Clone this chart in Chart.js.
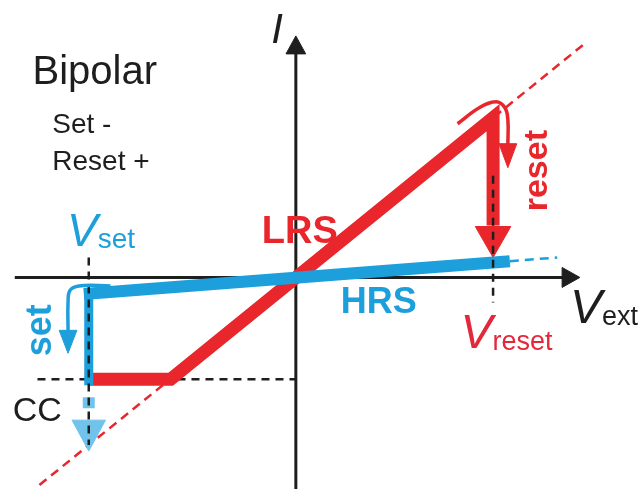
<!DOCTYPE html>
<html>
<head>
<meta charset="utf-8">
<script src="https://cdn.jsdelivr.net/npm/chart.js@4/dist/chart.umd.min.js"></script>
<style>
  html, body { margin: 0; padding: 0; background: #ffffff; }
  canvas { display: block; }
</style>
</head>
<body>
<canvas id="iv" width="641" height="489"></canvas>
<script>
// Bipolar resistive switching: schematic I–V loop (arbitrary units)
const V_SET = -2.1;
const V_RESET = 2.0;
const I_CC = -1.02;

// low resistance state branch: compliance plateau, ohmic rise, reset drop
const lrsV = [-2.1, -1.27, 2.0, 2.0];
const lrsI = [-1.02, -1.02, 1.6, 0.52];
// extrapolated LRS line
const lrsGuideV = [-2.6, 2.95];
const lrsGuideI = [-2.08, 2.36];

// high resistance state branch
const hrsV = [-2.15, 2.17];
const hrsI = [-0.165, 0.163];
const hrsGuideV = [2.17, 2.65];
const hrsGuideI = [0.163, 0.2];

// set jump at V_set
const setDropV = [-2.1, -2.1];
const setDropI = [-0.105, -1.08];

// reset arrowhead
const resetHeadV = [1.82, 2.18, 2.0, 1.82];
const resetHeadI = [0.51, 0.51, 0.2, 0.51];

// current beyond compliance (dashed, light)
const ccDashV = [-2.1, -2.1];
const ccDashI = [-1.2, -1.31];
const ccHeadV = [-2.27, -1.93, -2.1, -2.27];
const ccHeadI = [-1.43, -1.43, -1.74, -1.43];

// curved "reset" arrow
const resetCurveV = [1.64, 1.86, 2.03, 2.12, 2.15, 2.15];
const resetCurveI = [1.54, 1.70, 1.76, 1.70, 1.58, 1.33];
const resetCurveHeadV = [2.06, 2.24, 2.15, 2.06];
const resetCurveHeadI = [1.34, 1.34, 1.10, 1.34];

// curved "set" arrow
const setCurveV = [-1.88, -2.2, -2.29, -2.31, -2.31];
const setCurveI = [-0.085, -0.085, -0.13, -0.25, -0.53];
const setCurveHeadV = [-2.4, -2.22, -2.31, -2.4];
const setCurveHeadI = [-0.53, -0.53, -0.76, -0.53];

// guide lines
const vSetGuideV = [-2.1, -2.1];
const vSetGuideI = [0.2, -1.68];
const vResetGuideV = [2.0, 2.0];
const vResetGuideI = [1.02, -0.25];
const ccGuideV = [-2.62, 0];
const ccGuideI = [-1.02, -1.02];

// axes with arrowheads
const xAxisV = [-2.85, 2.72];
const xAxisI = [0, 0];
const xHeadV = [2.7, 2.88, 2.7, 2.7];
const xHeadI = [0.1, 0, -0.1, 0.1];
const yAxisV = [0, 0];
const yAxisI = [-2.2, 2.26];
const yHeadV = [-0.1, 0.1, 0, -0.1];
const yHeadI = [2.24, 2.24, 2.42, 2.24];

const RED = '#e8262b';
const RED_TEXT = '#e2283a';
const BLUE = '#1d9fdb';
const LIGHT_BLUE = '#72c3ec';
const BLACK = '#1e1e1e';
const FONT = '"Liberation Sans", Arial, sans-serif';

const pts = (xs, ys) => xs.map((x, i) => ({ x, y: ys[i] }));

function line(xs, ys, color, width, extra) {
  return Object.assign({
    data: pts(xs, ys),
    showLine: true,
    borderColor: color,
    borderWidth: width,
    pointRadius: 0,
    fill: false,
    tension: 0
  }, extra || {});
}
function head(xs, ys, color) {
  return {
    data: pts(xs, ys),
    showLine: true,
    borderColor: color,
    borderWidth: 1,
    backgroundColor: color,
    pointRadius: 0,
    fill: 'shape',
    tension: 0
  };
}

// listed from bottom layer to top layer
const layers = [
  line(lrsGuideV, lrsGuideI, RED, 2.5, { borderDash: [9, 6] }),
  line(hrsGuideV, hrsGuideI, BLUE, 2.5, { borderDash: [9, 6] }),
  line(ccGuideV, ccGuideI, BLACK, 2.5, { borderDash: [8, 6] }),
  line(xAxisV, xAxisI, BLACK, 3),
  head(xHeadV, xHeadI, BLACK),
  line(yAxisV, yAxisI, BLACK, 3),
  head(yHeadV, yHeadI, BLACK),
  line(ccDashV, ccDashI, LIGHT_BLUE, 12),
  head(ccHeadV, ccHeadI, LIGHT_BLUE),
  line(lrsV, lrsI, RED, 13, { borderJoinStyle: 'miter' }),
  head(resetHeadV, resetHeadI, RED),
  line(hrsV, hrsI, BLUE, 12),
  line(setDropV, setDropI, BLUE, 9),
  line(vSetGuideV, vSetGuideI, BLACK, 2.5, { borderDash: [8, 6] }),
  line(vResetGuideV, vResetGuideI, BLACK, 2.5, { borderDash: [8, 6] }),
  line(resetCurveV, resetCurveI, RED, 3.5, { tension: 0.4 }),
  head(resetCurveHeadV, resetCurveHeadI, RED),
  line(setCurveV, setCurveI, BLUE, 3.5, { tension: 0.4 }),
  head(setCurveHeadV, setCurveHeadI, BLUE)
];
layers.forEach((d, i) => { d.order = layers.length - i; });

// text annotations, anchored in data units
const texts = [
  { t: 'Bipolar', x: -2.67, y: 1.94, font: '40px', color: BLACK, align: 'left' },
  { t: 'Set -', x: -2.47, y: 1.45, font: '28px', color: BLACK, align: 'left' },
  { t: 'Reset +', x: -2.47, y: 1.08, font: '28px', color: BLACK, align: 'left' },
  { t: 'CC', x: -2.87, y: -1.44, font: '34px', color: BLACK, align: 'left' },
  { t: 'LRS', x: 0.04, y: 0.35, font: 'bold 38px', color: RED, align: 'center' },
  { t: 'HRS', x: 0.84, y: -0.36, font: 'bold 36px', color: BLUE, align: 'center' },
  { t: 'reset', x: 2.45, y: 1.07, font: 'bold 34px', color: RED, align: 'center', rot: true },
  { t: 'set', x: -2.58, y: -0.53, font: 'bold 36px', color: BLUE, align: 'center', rot: true }
];
const symbols = [
  { main: 'I', sub: '', x: -0.25, y: 2.35, size: 42, subSize: 27, color: BLACK },
  { main: 'V', sub: 'ext', x: 2.78, y: -0.46, size: 48, subSize: 27, color: BLACK },
  { main: 'V', sub: 'reset', x: 1.67, y: -0.71, size: 48, subSize: 27, color: RED_TEXT },
  { main: 'V', sub: 'set', x: -2.32, y: 0.31, size: 46, subSize: 28, color: BLUE }
];

const annotate = {
  id: 'annotate',
  afterDatasetsDraw(chart) {
    const ctx = chart.ctx;
    const sx = chart.scales.x, sy = chart.scales.y;
    ctx.save();
    texts.forEach(o => {
      const px = sx.getPixelForValue(o.x), py = sy.getPixelForValue(o.y);
      ctx.fillStyle = o.color;
      ctx.font = o.font + ' ' + FONT;
      if (o.rot) {
        ctx.save();
        ctx.translate(px, py);
        ctx.rotate(-Math.PI / 2);
        ctx.textAlign = 'center';
        ctx.textBaseline = 'middle';
        ctx.fillText(o.t, 0, 0);
        ctx.restore();
      } else {
        ctx.textAlign = o.align;
        ctx.textBaseline = 'alphabetic';
        ctx.fillText(o.t, px, py);
      }
    });
    symbols.forEach(o => {
      const px = sx.getPixelForValue(o.x), py = sy.getPixelForValue(o.y);
      ctx.fillStyle = o.color;
      ctx.textAlign = 'left';
      ctx.textBaseline = 'alphabetic';
      ctx.font = 'italic ' + o.size + 'px ' + FONT;
      ctx.fillText(o.main, px, py);
      const w = ctx.measureText(o.main).width;
      if (o.sub) {
        ctx.font = o.subSize + 'px ' + FONT;
        ctx.fillText(o.sub, px + w, py + 2);
      }
    });
    ctx.restore();
  }
};

new Chart(document.getElementById('iv'), {
  type: 'scatter',
  data: { datasets: layers },
  options: {
    responsive: false,
    animation: false,
    devicePixelRatio: 1,
    layout: { padding: 0 },
    plugins: { legend: { display: false }, tooltip: { enabled: false } },
    scales: {
      x: { type: 'linear', min: -3.0, max: 3.5, display: false },
      y: { type: 'linear', min: -2.12, max: 2.78, display: false }
    }
  },
  plugins: [annotate]
});
</script>
</body>
</html>
